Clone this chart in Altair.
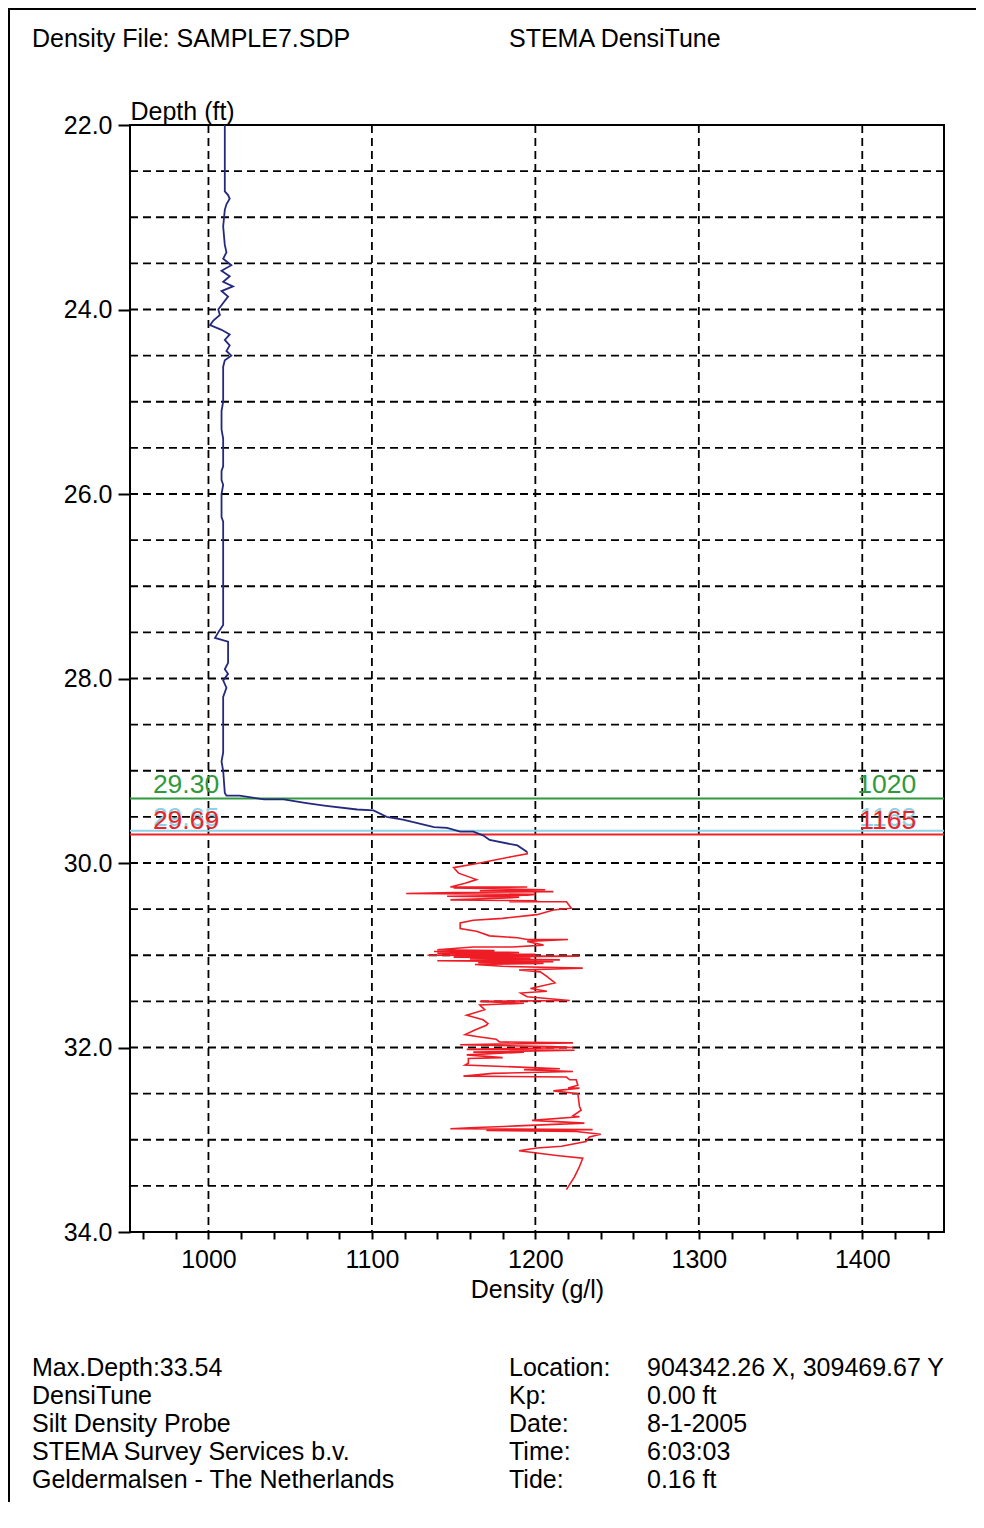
import altair as alt
import pandas as pd

FONT = "Liberation Sans"

# ---- data ----
blue_depth = [22.00, 22.72, 22.76, 22.80, 22.86, 22.92, 23.10, 23.30, 23.38, 23.45, 23.52, 23.58,
              23.64, 23.70, 23.75, 23.80, 23.86, 23.93, 24.00, 24.06, 24.12, 24.17, 24.22, 24.27,
              24.33, 24.39, 24.45, 24.50, 24.55, 24.62, 25.00, 25.10, 25.30, 25.40, 25.70, 25.75,
              25.85, 25.90, 26.00, 26.25, 26.30, 27.42, 27.50, 27.56, 27.60, 27.83, 27.90, 27.95,
              28.02, 28.10, 28.20, 28.80, 28.90, 29.00, 29.24, 29.27, 29.27, 29.31, 29.31, 29.35,
              29.38, 29.42, 29.43, 29.50, 29.53, 29.61, 29.62, 29.66, 29.66, 29.70, 29.75, 29.81,
              29.88]
blue_density = [1010, 1010, 1012, 1013, 1011, 1010, 1009, 1010, 1011, 1009, 1014, 1008,
                1013, 1009, 1015, 1008, 1012, 1009, 1006, 1007, 1003, 1001, 1008, 1013,
                1010, 1013, 1011, 1014, 1010, 1009, 1009, 1008, 1008, 1009, 1009, 1008,
                1008, 1009, 1008, 1008, 1009, 1009, 1006, 1004, 1012, 1012, 1010, 1012,
                1009, 1011, 1009, 1009, 1008, 1009, 1010, 1011, 1019, 1034, 1046, 1060,
                1072, 1091, 1101, 1109, 1119, 1138, 1146, 1154, 1162, 1168, 1172, 1189,
                1195]

red_depth = [29.88, 29.90, 29.93, 30.00, 30.05, 30.11, 30.18, 30.22, 30.26, 30.26, 30.27, 30.29,
             30.30, 30.31, 30.32, 30.33, 30.34, 30.35, 30.36, 30.37, 30.38, 30.40, 30.41, 30.42,
             30.42, 30.49, 30.51, 30.56, 30.60, 30.62, 30.65, 30.71, 30.74, 30.79, 30.81, 30.83,
             30.83, 30.85, 30.89, 30.91, 30.91, 30.94, 30.95, 30.96, 30.97, 30.98, 30.99, 31.00,
             31.01, 31.02, 31.03, 31.04, 31.05, 31.06, 31.07, 31.08, 31.09, 31.10, 31.12, 31.14,
             31.16, 31.18, 31.23, 31.30, 31.36, 31.39, 31.41, 31.45, 31.49, 31.50, 31.52, 31.54,
             31.59, 31.65, 31.70, 31.74, 31.76, 31.81, 31.86, 31.88, 31.91, 31.94, 31.95, 31.97,
             31.99, 32.00, 32.02, 32.03, 32.05, 32.05, 32.08, 32.11, 32.12, 32.17, 32.19, 32.21,
             32.23, 32.24, 32.26, 32.28, 32.31, 32.32, 32.35, 32.35, 32.41, 32.44, 32.44, 32.47,
             32.50, 32.64, 32.68, 32.74, 32.75, 32.79, 32.82, 32.85, 32.87, 32.88, 32.89, 32.90,
             32.91, 32.94, 32.97, 33.02, 33.07, 33.09, 33.12, 33.17, 33.20, 33.29, 33.40, 33.54]
red_density = [1195, 1195, 1186, 1166, 1150, 1153, 1164, 1157, 1148, 1195, 1150, 1206,
               1166, 1211, 1150, 1121, 1200, 1195, 1146, 1190, 1182, 1148, 1201, 1184,
               1219, 1222, 1211, 1201, 1180, 1162, 1154, 1154, 1164, 1172, 1189, 1195,
               1220, 1195, 1205, 1186, 1162, 1140, 1175, 1138, 1190, 1140, 1200, 1134,
               1227, 1150, 1197, 1160, 1215, 1140, 1211, 1165, 1205, 1163, 1180, 1229,
               1190, 1203, 1207, 1212, 1197, 1207, 1191, 1195, 1221, 1166, 1193, 1166,
               1169, 1158, 1168, 1171, 1170, 1163, 1157, 1164, 1176, 1178, 1223, 1154,
               1210, 1223, 1158, 1224, 1162, 1193, 1158, 1180, 1159, 1159, 1157, 1187,
               1215, 1193, 1223, 1174, 1156, 1219, 1221, 1225, 1226, 1220, 1227, 1211,
               1226, 1227, 1228, 1223, 1227, 1198, 1230, 1189, 1160, 1148, 1235, 1170,
               1225, 1240, 1233, 1231, 1216, 1201, 1190, 1213, 1229, 1227, 1224, 1219]

grid_depths = [22.5, 23.0, 23.5, 24.0, 24.5, 25.0, 25.5, 26.0, 26.5, 27.0, 27.5, 28.0,
               28.5, 29.0, 29.5, 30.0, 30.5, 31.0, 31.5, 32.0, 32.5, 33.0, 33.5]
grid_densities = [1000, 1100, 1200, 1300, 1400]
x_tick_values = [960, 980, 1000, 1020, 1040, 1060, 1080, 1100, 1120, 1140, 1160, 1180, 1200,
                 1220, 1240, 1260, 1280, 1300, 1320, 1340, 1360, 1380, 1400, 1420, 1440]
y_tick_values = [22, 24, 26, 28, 30, 32, 34]

marker_names = ["Top", "Mid", "Bottom"]
marker_depths = [29.30, 29.65, 29.69]
marker_left_labels = ["29.30", "29.65", "29.69"]
marker_right_labels = ["1020", "1163", "1165"]
marker_colors = ["#2f9a3c", "#8ad3e6", "#ee2229"]
label_left_density = 966
label_right_density = 1433

header_left = "Density File: SAMPLE7.SDP"
header_right = "STEMA DensiTune"
info_left = ["Max.Depth:33.54", "DensiTune", "Silt Density Probe",
             "STEMA Survey Services b.v.", "Geldermalsen - The Netherlands"]
info_keys = ["Location:", "Kp:", "Date:", "Time:", "Tide:"]
info_vals = ["904342.26 X, 309469.67 Y", "0.00 ft", "8-1-2005", "6:03:03", "0.16 ft"]

# ---- tables ----
blue_df = pd.DataFrame({"i": range(len(blue_depth)), "depth": blue_depth, "density": blue_density})
red_df = pd.DataFrame({"i": range(len(red_depth)), "depth": red_depth, "density": red_density})
hgrid_df = pd.DataFrame({"depth": grid_depths})
vgrid_df = pd.DataFrame({"density": grid_densities})
marker_df = pd.DataFrame({"name": marker_names, "depth": marker_depths,
                          "left": marker_left_labels, "right": marker_right_labels,
                          "lx": [label_left_density] * 3, "rx": [label_right_density] * 3})

W, H = 814, 1107
xscale = alt.Scale(domain=[952, 1450], nice=False, zero=False)
yscale = alt.Scale(domain=[22, 34], nice=False, zero=False, reverse=True)
cscale = alt.Scale(domain=marker_names, range=marker_colors)

xaxis = alt.Axis(values=x_tick_values, format="d",
                 labelExpr="datum.value % 100 == 0 ? datum.label : ''",
                 tickSize=7, tickWidth=2, tickColor="black", domain=False, grid=False,
                 labelFont=FONT, labelFontSize=25, labelColor="black", labelPadding=8,
                 labelFlush=False, labelOverlap=False,
                 title="Density (g/l)", titleFont=FONT, titleFontSize=25,
                 titleFontWeight="normal", titleColor="black", titlePadding=5)
yaxis = alt.Axis(values=y_tick_values, format=".1f", tickSize=12, tickWidth=2,
                 tickColor="black", domain=False, grid=False,
                 labelFont=FONT, labelFontSize=25, labelColor="black", labelPadding=6,
                 title="Depth (ft)", titleFont=FONT, titleFontSize=25,
                 titleFontWeight="normal", titleColor="black", titleAngle=0,
                 titleX=0, titleY=-1, titleAlign="left", titleBaseline="bottom")


def xe(field):
    return alt.X(f"{field}:Q", scale=xscale, axis=xaxis)


def ye(field):
    return alt.Y(f"{field}:Q", scale=yscale, axis=yaxis)


hgrid = alt.Chart(hgrid_df).mark_rule(color="black", strokeWidth=1.8, strokeDash=[8, 5]).encode(
    y=ye("depth"))
vgrid = alt.Chart(vgrid_df).mark_rule(color="black", strokeWidth=1.8, strokeDash=[8, 5]).encode(
    x=xe("density"))

marker_rules = alt.Chart(marker_df).mark_rule(strokeWidth=2).encode(
    y=ye("depth"), color=alt.Color("name:N", scale=cscale, legend=None))
marker_left = alt.Chart(marker_df).mark_text(font=FONT, fontSize=26.5, align="left",
                                             baseline="bottom", dy=1).encode(
    x=xe("lx"), y=ye("depth"), text="left:N",
    color=alt.Color("name:N", scale=cscale, legend=None))
marker_right = alt.Chart(marker_df).mark_text(font=FONT, fontSize=26.5, align="right",
                                              baseline="bottom", dy=1).encode(
    x=xe("rx"), y=ye("depth"), text="right:N",
    color=alt.Color("name:N", scale=cscale, legend=None))

blue = alt.Chart(blue_df).mark_line(color="#24297e", strokeWidth=1.8).encode(
    x=xe("density"), y=ye("depth"), order="i:Q")
red = alt.Chart(red_df).mark_line(color="#ee1c25", strokeWidth=1.6).encode(
    x=xe("density"), y=ye("depth"), order="i:Q")


# ---- page texts (outside the plot area) ----
def text_layer(txt, px, py, baseline="middle"):
    return alt.Chart(pd.DataFrame({"t": [txt]})).mark_text(
        font=FONT, fontSize=25, align="left", baseline=baseline, lineBreak="\n",
        lineHeight=28, color="black").encode(text="t:N", x=alt.value(px), y=alt.value(py))


head1 = text_layer(header_left, -98, -86)
head2 = text_layer(header_right, 379, -86)
info1 = text_layer("\n".join(info_left), -98, 1231, baseline="top")
info2 = text_layer("\n".join(info_keys), 379, 1231, baseline="top")
info3 = text_layer("\n".join(info_vals), 517, 1231, baseline="top")

frame_top = alt.Chart(pd.DataFrame({"a": [0]})).mark_rule(color="black", strokeWidth=2).encode(
    x=alt.value(-122), x2=alt.value(852), y=alt.value(-116))
frame_left = alt.Chart(pd.DataFrame({"a": [0]})).mark_rule(color="black", strokeWidth=2).encode(
    x=alt.value(-121), y=alt.value(-117), y2=alt.value(1390))

chart = alt.layer(
    hgrid, vgrid, marker_rules, marker_left, marker_right, blue, red,
    head1, head2, info1, info2, info3, frame_top, frame_left
).properties(
    width=W, height=H,
    autosize=alt.AutoSizeParams(type="none"),
    padding={"left": 122, "top": 117, "right": 32, "bottom": 270},
    background="white",
).configure_view(stroke="black", strokeWidth=2)

chart.save("out.html", embed_options={"renderer": "svg", "actions": False})
